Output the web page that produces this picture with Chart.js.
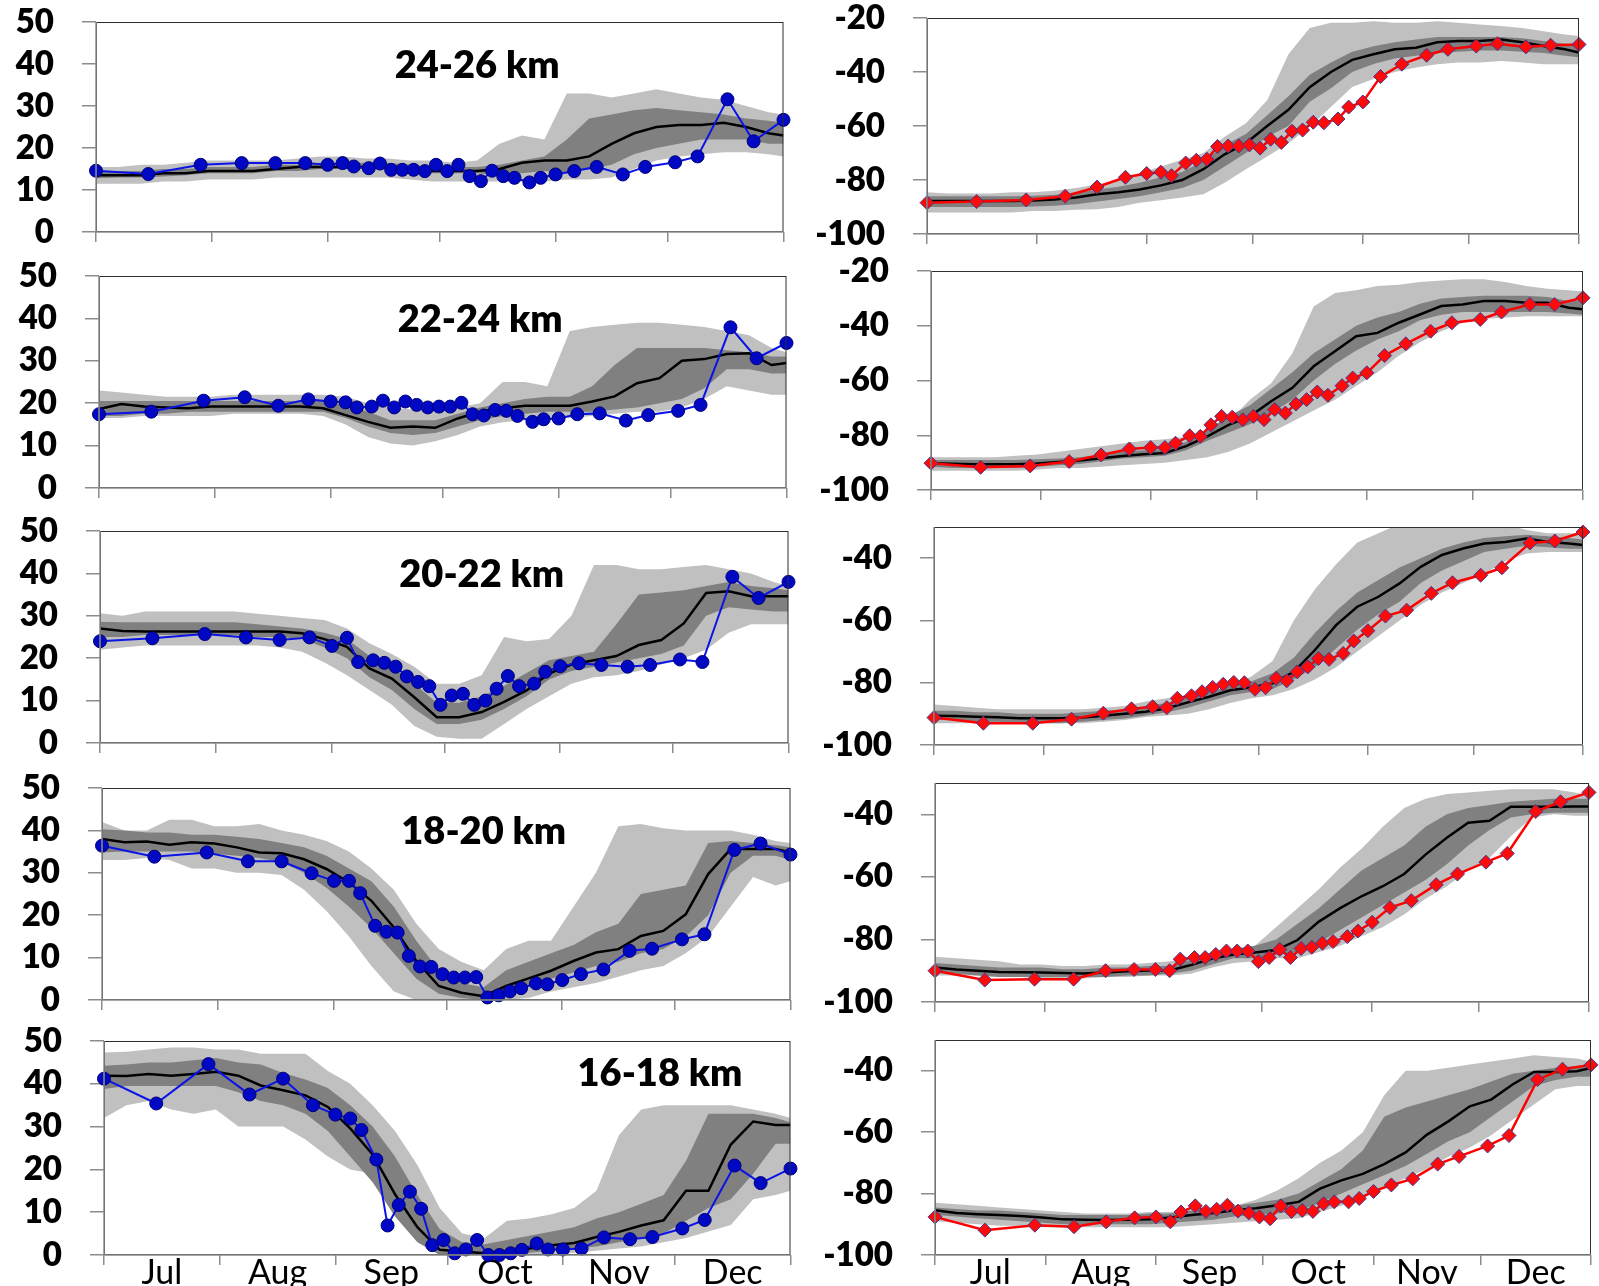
<!DOCTYPE html>
<html>
<head>
<meta charset="utf-8">
<script src="https://cdn.jsdelivr.net/npm/chart.js@4.4.1/dist/chart.umd.min.js"></script>
<style>
  html, body { margin: 0; padding: 0; background: #fff; }
  body { width: 1599px; height: 1286px; position: relative; overflow: hidden; }
  .panel { position: absolute; }
</style>
</head>
<body>
<script>
// x in days since 1 July
const bandDays = [0, 6, 12, 18, 24, 30, 36, 42, 48, 54, 60, 66, 72, 78, 84, 90, 96, 102, 108, 114, 120, 126, 132, 138, 144, 150, 156, 162, 168, 174, 180, 184];
const obsDays = [0, 14, 28, 39, 48, 56, 62, 66, 69, 73, 76, 79, 82, 85, 88, 91, 94, 97, 100, 103, 106, 109, 112, 116, 119, 123, 128, 134, 141, 147, 155, 161, 169, 176, 184];
const monthEdges = [0, 31, 62, 92, 123, 153, 184];
const monthMid = [15.5, 46.5, 77, 107.5, 138, 168.5];
const monthNames = ['Jul', 'Aug', 'Sep', 'Oct', 'Nov', 'Dec'];
const leftTicks = [0, 10, 20, 30, 40, 50];
const rightTicksHigh = [-100, -80, -60, -40, -20];
const rightTicksLow = [-100, -80, -60, -40];

// ---- 24-26 km ----
const o3_2426_lightLo = [11.5,11.5,11.5,12,12,12.5,12.5,12.5,13,13,13,13,13,13,12.5,12,12,12,12,12,12,12.5,12.5,13,15,17,18,18.5,19,19,18.5,18];
const o3_2426_lightHi = [15.5,15.5,16,16,16.5,17,17,17,17,17.5,18,18,17.5,17.5,17,17,16.5,17,21,23,22,33,33,32,33,34,33,32,31.5,30,28.5,28];
const o3_2426_darkLo = [12.8,13,13,13.2,13.5,14,14,14,14.5,14.5,15,15,15,15,14.5,14,14,14,13.5,14,14.5,14,15,16,18.5,20,21,22,22,22,21,21];
const o3_2426_median = [13.5,13.5,13.5,14,14,14.5,14.5,14.5,15,15.5,15.5,15.5,15.5,15.5,15,14.5,14.5,14.5,15,16.5,17,17,18,21,23.5,25,25.5,25.5,26,25,23.5,23];
const o3_2426_darkHi = [14.5,14.5,14.5,15,15,15.5,15.5,15.5,16,16,16.5,16.5,16.5,16.5,16,15.5,15.5,15.5,16,17,18,22,27,28,29,29.5,29,28.5,28,27,26.5,26];
const o3_2426_obs = [14.6,13.8,16.0,16.4,16.4,16.4,16.0,16.4,15.6,15.2,16.3,14.8,14.8,14.8,14.5,16.0,14.5,16.0,13.3,12.1,14.6,13.3,12.9,11.8,12.9,13.7,14.5,15.5,13.7,15.5,16.6,18.0,31.6,21.6,26.7];

const t_2426_lightLo = [-92,-92,-92,-92,-92,-91.5,-91.5,-91,-90.8,-90,-88.4,-87.5,-86.5,-85.3,-81,-76,-71.3,-66.4,-60.3,-53,-45.6,-42.6,-40,-38.3,-37.1,-36.5,-36.5,-35.9,-36.5,-37.1,-37.1,-37.1];
const t_2426_lightHi = [-84.5,-85,-85,-85,-84.5,-84.5,-84,-83,-81.7,-80,-77.4,-75,-72.5,-70,-64,-59,-50.5,-33.4,-23.7,-21.8,-21.8,-21.2,-21.8,-21.8,-21.2,-21.8,-22.4,-23,-23.7,-24.9,-26.1,-26.7];
const t_2426_darkLo = [-90,-90,-90,-90,-90,-89.8,-89.5,-89,-88,-87,-86,-84.5,-83,-80,-75,-70,-64,-60,-51,-46,-40,-37,-35,-34,-33,-32.5,-32,-32,-32.5,-33,-34,-34.5];
const t_2426_median = [-87.8,-87.8,-87.8,-87.8,-87.8,-87.6,-87.2,-86.5,-85.3,-84.5,-83.5,-82,-80,-76,-70.5,-66.4,-60,-54,-45.6,-40,-35.5,-33.4,-31.6,-31,-29,-28.5,-28.5,-28,-29,-30.4,-31.6,-32.8];
const t_2426_darkHi = [-86,-86,-86,-86,-86,-85.8,-85.5,-84.5,-83.5,-82.5,-81,-79,-77,-73,-67,-63,-56,-49,-41,-36.5,-32.5,-30.5,-29,-28,-27,-27,-27,-27,-27.5,-28.5,-29.5,-30];
const t_2426_obs = [-88.4,-88,-87.4,-86,-82.6,-79,-77.6,-77.1,-78.4,-73.7,-72.7,-72.3,-67.6,-67.4,-67.4,-67,-68.2,-64.9,-66.1,-61.9,-61.5,-58.6,-58.8,-57.4,-53,-51.1,-41.7,-37.1,-33.8,-31.6,-30.4,-29.5,-30.7,-30.1,-29.8];

// ---- 22-24 km ----
const o3_2224_lightLo = [16.5,16.5,17,17,17,17,17.5,17.5,17.5,17.5,17,15,12,10.5,10,11,12.5,14.5,15.5,16,16.5,16.5,17,17.5,18,18,19,21,24,23,22,22];
const o3_2224_lightHi = [23,22.5,22,21.5,21.5,21.5,22,22,22,22,22,21.5,20,19,18.5,18,19,20,25,25,24,37,38,38.5,39,39,38.5,38,37,36,33,32];
const o3_2224_darkLo = [17,17,17.5,17.5,18,18,18,18,18,18,18,16.5,14.5,13,12.5,13,14.5,16,17,17.5,18,18,18,18.5,19,20,21,23.5,28,28,27,27];
const o3_2224_median = [18.6,19.8,19.2,19,18.8,19.2,19.2,19.2,19.2,19.2,18.8,17.2,15.6,14.2,14.5,14.2,16.4,18,18.8,19.4,19.4,19.4,20.4,21.6,24.7,25.9,30,30.4,31.6,31.8,29,29.5];
const o3_2224_darkHi = [20.5,20.5,20.5,20.5,20.5,20.5,20.5,20.5,20.5,20.5,20.5,19.5,18,16,16,16,17.5,19,20,21,21.5,21.5,24,29,33,33,33,33,32.5,32,31,31];
const o3_2224_obs = [17.4,18,20.6,21.4,19.4,20.9,20.4,20.2,19,19.2,20.6,19,20.4,19.6,19,19.2,19.2,20.1,17.4,17.1,18.4,18.2,17,15.6,16.2,16.4,17.4,17.6,15.9,17.2,18.2,19.6,37.9,30.6,34.2];

const t_2224_lightLo = [-93,-93,-93,-93,-93,-92.5,-92,-92,-91.5,-91,-90.5,-90,-89,-88,-86,-83,-79,-75,-71,-67,-62,-57,-51,-46,-42,-39,-37.5,-37,-36.5,-36.5,-36.5,-36.5];
const t_2224_lightHi = [-88,-88,-88,-88,-87.5,-87,-86,-85,-84,-83,-82,-81.5,-80.5,-79.5,-75,-67,-61,-50,-33,-28,-27,-25.5,-25,-24,-23.5,-23,-23,-24,-25.5,-26.5,-27,-27.5];
const t_2224_darkLo = [-91.5,-92,-92,-92,-92,-91.5,-91,-90.5,-89.5,-88.5,-88,-87.5,-85.5,-82,-79,-76,-72,-67,-60,-54,-49,-45,-42,-38,-36,-35,-35,-35,-35,-35,-35.5,-36];
const t_2224_median = [-90.2,-90.4,-90.6,-90.6,-90.6,-90.3,-89.8,-89.2,-88.4,-87.6,-86.9,-86.5,-84,-80.4,-76.2,-73.1,-67.6,-62.7,-54.8,-49.3,-43.8,-42.6,-38.9,-35.9,-32.8,-32.2,-31,-31,-31.6,-31.6,-33.4,-34];
const t_2224_darkHi = [-89,-89,-89,-89,-89,-88.8,-88.5,-88,-87,-86,-85.5,-85,-82.5,-78,-73,-69,-63,-57,-50,-45,-40,-37,-35,-32,-30,-29.5,-29,-29,-29,-29.5,-31,-31];
const t_2224_obs = [-90.2,-91.7,-91.2,-89.6,-87.2,-85,-84.5,-84.5,-82.9,-80.2,-80.4,-76.2,-73.1,-73.4,-74.3,-73.1,-74.3,-70.6,-71.9,-68.6,-67,-64.2,-65.4,-61.9,-59.1,-57.2,-50.9,-46.6,-42,-38.9,-37.7,-35,-32.2,-32.2,-29.8];

// ---- 20-22 km ----
const o3_2022_lightLo = [22,22.5,23,23,23,23,23,23,22.5,21.5,19,16,12.5,9,4,1.5,1,1,4.5,8,11,14,15.5,16,17,18.5,20,22,26,28,28,28];
const o3_2022_lightHi = [30.6,30,31,31,31,31,31,30.5,30,29.5,29,27,23.5,21,18,14,14,16,25,24,24.5,30,42,42,41,41,41.5,42,41,40,38,37];
const o3_2022_darkLo = [25,25,25.5,25.5,25.5,25.5,25.5,25,25,24.5,22.5,20,15.5,12.5,8,4.5,4.5,5.5,8,11,15,17,18,19,20,21,23,30,32,31.5,31,31];
const o3_2022_median = [27,26.4,26.3,26.3,26.3,26.3,26.3,26.3,26.3,25.9,24.5,22.7,17.6,15.2,10.8,6.1,6.1,7.3,9.7,12.4,16.4,18.5,19.5,20.5,23.1,24.3,28.2,35.4,35.8,34.6,34.6,34.6];
const o3_2022_darkHi = [28.6,28.5,28.5,28.5,28.5,28.5,28.5,28,27.5,27,26,24.5,20.5,18,14,9.5,9.5,11,13.5,16.5,19.5,20.5,21.5,28,35,35.5,36,37,38,37,36.5,36];
const o3_2022_obs = [24,24.7,25.7,24.9,24.3,24.9,22.9,24.8,19.1,19.5,18.9,18,15.7,14.4,13.4,9,11.2,11.6,9,10,12.8,15.8,13.4,14,16.8,18.1,18.8,18.4,18,18.4,19.7,19.1,39.2,34.2,38];

const t_2022_lightLo = [-93,-93,-93,-93,-93,-93,-93,-93,-92.5,-92,-91,-90.5,-90,-88.5,-86.5,-85,-84,-82,-79,-75,-70,-65,-60,-55,-51,-48,-45,-41,-38.5,-38,-38,-38];
const t_2022_lightHi = [-87,-87.5,-88,-88.5,-88.5,-88.5,-88.5,-88.5,-88,-87.5,-86,-85,-84,-83,-81,-78,-73,-60,-50,-42,-35,-32,-29,-29,-29,-29,-29,-29,-31,-32,-32,-32];
const t_2022_darkLo = [-92,-92,-92.5,-92.5,-93,-93,-93,-92.5,-92,-91.5,-90.5,-89.5,-88,-86,-84,-83,-82,-79,-75,-69,-63,-58,-54,-48,-44,-41,-38,-37,-36,-36.5,-37,-37];
const t_2022_median = [-90.6,-90.7,-90.9,-91.1,-91.4,-91.4,-91.4,-91.2,-90.6,-90,-89.3,-88.2,-86.3,-84.5,-82.4,-81.5,-80.2,-76.5,-69.5,-61.5,-55.6,-52.4,-48.1,-42.8,-39,-36.9,-35.3,-34.8,-33.7,-34.8,-35.3,-35.8];
const t_2022_darkHi = [-89,-89,-89.5,-89.5,-90,-90,-90,-89.5,-89,-88.5,-87.5,-86.5,-84.5,-83,-81,-79.5,-77,-72,-64,-57,-51,-47,-43,-40,-37,-35,-33.5,-33,-32.5,-33,-33.5,-34];
const t_2022_obs = [-91.2,-93,-93,-91.7,-89.8,-88.4,-87.7,-88,-85,-84.2,-82.9,-81.5,-80.5,-79.9,-80,-82.1,-81.6,-78.6,-79.4,-76.5,-74.9,-72.2,-72.5,-70.6,-66.6,-63.3,-58.6,-56.7,-51.3,-47.9,-45.5,-43.1,-35.1,-34.5,-31.6];

// ---- 18-20 km ----
const o3_1820_lightLo = [33,33,33.5,33,31,31,30,30,29.5,26,21,15,8,2,0,0,0,0,0,0.5,2,3,4,5.5,7,8,11,15,22,29,27,28];
const o3_1820_lightHi = [42,40,40,42.5,42.5,41,41,41.5,40,39,37.5,35,31,26,18,12,9,7,12,14,14,22,30,41,41.5,40.5,40,40,40,39,37.5,37];
const o3_1820_darkLo = [34.8,35,35,35,35,34.5,34,33.5,32.5,30,26.5,22,17,11,5,1.5,0.5,0,1,3,5,6.5,8,9,11,12,15,20,30,34,34,33];
const o3_1820_median = [38,37.2,37.4,36.6,37.2,36.9,36,34.8,34.6,33.2,30.9,27.7,23.4,17.1,9.2,3.3,1.7,0.9,3.3,5.1,6.9,9.2,11.2,12,15.1,16.3,20.2,29.7,35.6,35.6,35.6,34.8];
const o3_1820_darkHi = [40.3,40,39.5,39.5,39,39,38.5,38,37,36,34,31,28,22,14,7,4,3,7,9,11,13,16,18,25,26,27,37,37.5,37,36.5,36];
const o3_1820_obs = [36.4,33.8,34.8,32.7,32.7,29.9,28.1,28.1,25.2,17.5,16.1,15.9,10.4,7.9,7.8,6.1,5.3,5.3,5.4,0.6,1.1,2,2.8,3.9,3.7,4.7,6.1,7.2,11.6,12.1,14.3,15.5,35.4,36.9,34.3];

const t_1820_lightLo = [-91.5,-91.5,-91.5,-92,-92,-92.5,-92.5,-92.5,-92,-92,-91.5,-91.5,-91,-89,-87.5,-87,-86,-86,-84,-82,-79,-76,-72,-67,-63,-58,-54,-47,-41,-40,-40.5,-40.5];
const t_1820_lightHi = [-85.5,-86,-86.5,-87,-88,-88,-88.5,-88.5,-88,-88,-87.5,-87,-86,-84.5,-83.5,-82,-76,-70,-64,-57,-51,-44,-38,-35,-33.5,-33,-32.5,-32,-32,-32,-33,-34];
const t_1820_darkLo = [-90.5,-91,-91.5,-92,-92,-92,-92,-92,-92,-91.5,-91.5,-91,-90,-88,-86,-86,-85,-84,-81,-77,-73,-69,-65,-61,-56,-50,-45,-41,-40,-39.5,-39.5,-39.5];
const t_1820_median = [-89,-89.6,-90,-90.4,-90.5,-90.6,-90.7,-90.9,-90.6,-90.2,-89.9,-89.9,-88.2,-86.1,-84.8,-84.2,-83.4,-80.2,-74.3,-70,-66.2,-63,-59.1,-52.9,-47.5,-42.7,-42.1,-37.6,-37.6,-37.6,-37.5,-37.5];
const t_1820_darkHi = [-87.5,-88,-88.5,-89,-89,-89,-89.5,-89.5,-89,-89,-88.5,-88.5,-86.5,-84,-83,-82,-80,-75,-70,-64,-58,-54,-50,-44,-40,-38,-37,-36,-35.5,-35,-35,-35];
const t_1820_obs = [-90,-93,-92.7,-92.7,-90,-89.6,-89.6,-90,-86.3,-85.8,-85.8,-84.8,-83.7,-83.7,-83.7,-87.1,-85.8,-83.2,-85.8,-82.9,-82.5,-81.2,-80.7,-79.1,-77.3,-74.5,-69.8,-67.6,-62.5,-59.1,-55.3,-52.5,-39.1,-36,-33];

// ---- 16-18 km ----
const o3_1618_lightLo = [32,35,36,34,33,34,30,30,30,27,23,20,19,13,4,0,0,0,0,0,0,0.5,1,1.5,2,3,4,5.5,7,13,14,15];
const o3_1618_lightHi = [47.3,47.5,48,48.5,48.5,48,48,47,47,47,43,40,35,29,21,11,5,4,8,8.5,9.5,11,15,28,34,35,35,35,35,34,33,32];
const o3_1618_darkLo = [38.8,39.5,39.5,39.5,39.5,39.5,38,36,35,33,29,23,17,9,3,0,0,0,0,0.5,1,1.5,2,3,4,5,8,11,13,19,26,26];
const o3_1618_median = [41.9,41.8,42.3,41.9,42.3,42.8,41.9,39.6,38.5,37.3,34.6,29.6,23.5,14.2,6.5,1.2,0.8,0.4,0.8,1.5,2.3,2.8,4.2,5.4,6.9,8.1,15,15,25.8,31.2,30.4,30.4];
const o3_1618_darkHi = [44.2,44.5,45,45,45.5,46,45,44.5,42.5,41,39,35,30,23,14,6,3,2.5,3.5,4.5,5.5,6.5,8.5,10,12,14,22,33,33,33,32,31];
const o3_1618_obs = [41.2,35.4,44.6,37.5,41.2,35,32.8,31.9,29.2,22.3,6.9,11.7,14.8,10.8,2.3,3.5,0.4,1.3,3.5,0,0,0.4,1.2,2.7,1.3,1.3,1.5,4.1,3.7,4.2,6.2,8.2,20.9,16.8,20.2];

const t_1618_lightLo = [-89,-89.5,-90,-90.5,-90.5,-91,-91,-91,-91,-91,-91,-91,-90.5,-90,-89.5,-89,-88.5,-88,-86,-84,-81,-78,-75,-72,-68,-65,-61,-56,-51,-46,-45,-45];
const t_1618_lightHi = [-83,-83.5,-84,-84.5,-85,-85.5,-86,-86.5,-86.5,-86.5,-86,-86,-85,-84.5,-84,-82,-79,-75,-70,-66,-60,-48,-40,-40,-39,-38,-37,-36,-35,-35.5,-36,-37];
const t_1618_darkLo = [-87,-87.5,-88,-88.5,-89,-89.5,-90,-90,-90,-90,-90,-89.5,-89,-88.5,-87.5,-87,-86.5,-85.5,-83,-80,-77,-74,-71,-67,-63,-60,-55,-50,-45,-43,-42,-42];
const t_1618_median = [-85.4,-86.3,-86.7,-87,-87.3,-87.8,-88.4,-88.5,-88.6,-88.5,-88.4,-87.8,-87,-86.3,-85.4,-84.8,-83.8,-82.7,-78.4,-75.7,-73.6,-70.4,-66.6,-60.8,-56.5,-51.6,-49.4,-44.5,-40.4,-40.4,-40.2,-39.1];
const t_1618_darkHi = [-84.5,-85,-85.5,-85.5,-86,-86.5,-87,-87,-87,-87,-86.5,-86.5,-85.5,-85,-84,-83,-82,-80,-76,-72,-66,-55,-52,-50,-48,-46,-43.5,-41,-40,-39,-38.5,-38];
const t_1618_obs = [-87.6,-91.9,-90.3,-90.8,-89.2,-87.9,-87.6,-89.2,-86,-84,-85.8,-85.1,-83.8,-85.7,-86.3,-87.6,-88.2,-84,-85.8,-85.5,-85.8,-83.3,-82.7,-82.7,-81.6,-79.3,-77.2,-75.2,-70.4,-67.9,-64.5,-61.1,-42.9,-39.5,-38.1];

const LIGHT = '#c0c0c0';
const DARK = '#808080';
const blueObs = { line: '#0a14e6', fill: '#0008c4', edge: '#00007a', style: 'circle', r: 6.5, w: 2 };
const redObs = { line: '#ff0000', fill: '#ff0a0a', edge: '#463a8c', style: 'rectRot', r: 7, w: 2.5 };

const panels = [
  { col: 0, box: [96, 22, 788, 232], yMin: 0, yMax: 50, yTicks: leftTicks, title: { text: '24-26 km', day: 102, val: 39.6 },
    lo: o3_2426_lightLo, hi: o3_2426_lightHi, qlo: o3_2426_darkLo, med: o3_2426_median, qhi: o3_2426_darkHi, obs: o3_2426_obs, mk: blueObs },
  { col: 1, box: [927, 18, 1584, 234], yMin: -100, yMax: -20, yTicks: rightTicksHigh,
    lo: t_2426_lightLo, hi: t_2426_lightHi, qlo: t_2426_darkLo, med: t_2426_median, qhi: t_2426_darkHi, obs: t_2426_obs, mk: redObs },
  { col: 0, box: [99, 276, 791, 488], yMin: 0, yMax: 50, yTicks: leftTicks, title: { text: '22-24 km', day: 102, val: 39.6 },
    lo: o3_2224_lightLo, hi: o3_2224_lightHi, qlo: o3_2224_darkLo, med: o3_2224_median, qhi: o3_2224_darkHi, obs: o3_2224_obs, mk: blueObs },
  { col: 1, box: [931, 271, 1588, 490], yMin: -100, yMax: -20, yTicks: rightTicksHigh,
    lo: t_2224_lightLo, hi: t_2224_lightHi, qlo: t_2224_darkLo, med: t_2224_median, qhi: t_2224_darkHi, obs: t_2224_obs, mk: redObs },
  { col: 0, box: [100, 531, 793, 743], yMin: 0, yMax: 50, yTicks: leftTicks, title: { text: '20-22 km', day: 102, val: 39.6 },
    lo: o3_2022_lightLo, hi: o3_2022_lightHi, qlo: o3_2022_darkLo, med: o3_2022_median, qhi: o3_2022_darkHi, obs: o3_2022_obs, mk: blueObs },
  { col: 1, box: [934, 527, 1588, 745], yMin: -100, yMax: -30, yTicks: rightTicksLow,
    lo: t_2022_lightLo, hi: t_2022_lightHi, qlo: t_2022_darkLo, med: t_2022_median, qhi: t_2022_darkHi, obs: t_2022_obs, mk: redObs },
  { col: 0, box: [102, 788, 795, 1000], yMin: 0, yMax: 50, yTicks: leftTicks, title: { text: '18-20 km', day: 102, val: 39.6 },
    lo: o3_1820_lightLo, hi: o3_1820_lightHi, qlo: o3_1820_darkLo, med: o3_1820_median, qhi: o3_1820_darkHi, obs: o3_1820_obs, mk: blueObs },
  { col: 1, box: [935, 783, 1594, 1002], yMin: -100, yMax: -30, yTicks: rightTicksLow,
    lo: t_1820_lightLo, hi: t_1820_lightHi, qlo: t_1820_darkLo, med: t_1820_median, qhi: t_1820_darkHi, obs: t_1820_obs, mk: redObs },
  { col: 0, box: [104, 1041, 795, 1255], yMin: 0, yMax: 50, yTicks: leftTicks, title: { text: '16-18 km', day: 149, val: 42.3 }, bottom: true,
    lo: o3_1618_lightLo, hi: o3_1618_lightHi, qlo: o3_1618_darkLo, med: o3_1618_median, qhi: o3_1618_darkHi, obs: o3_1618_obs, mk: blueObs },
  { col: 1, box: [935, 1040, 1596, 1255], yMin: -100, yMax: -30, yTicks: rightTicksLow, bottom: true,
    lo: t_1618_lightLo, hi: t_1618_lightHi, qlo: t_1618_darkLo, med: t_1618_median, qhi: t_1618_darkHi, obs: t_1618_obs, mk: redObs }
];

const xTickValues = monthEdges.concat(monthMid).sort((a, b) => a - b);

function pts(xs, ys) {
  return xs.map((x, i) => ({ x: x, y: ys[i] }));
}

function band(ys, fillTo, color, order) {
  return {
    data: pts(bandDays, ys),
    borderColor: 'transparent',
    borderWidth: 0,
    pointRadius: 0,
    backgroundColor: color || 'transparent',
    fill: fillTo,
    order: order
  };
}

const framePlugin = {
  id: 'frame',
  afterDatasetsDraw(chart) {
    const a = chart.chartArea, ctx = chart.ctx;
    ctx.save();
    ctx.strokeStyle = '#2e2e2e';
    ctx.lineWidth = 1;
    ctx.strokeRect(a.left + 0.5, a.top + 0.5, a.right - a.left - 1, a.bottom - a.top - 1);
    ctx.strokeStyle = '#8c8c8c';
    ctx.lineWidth = 1.5;
    ctx.beginPath();
    ctx.moveTo(a.left, a.top);
    ctx.lineTo(a.left, a.bottom);
    ctx.lineTo(a.right, a.bottom);
    ctx.stroke();
    const t = chart.options.plugins.frame.title;
    if (t) {
      ctx.fillStyle = '#000';
      ctx.font = '800 38px Lato';
      ctx.textAlign = 'center';
      ctx.textBaseline = 'middle';
      ctx.fillText(t.text, chart.scales.x.getPixelForValue(t.day), chart.scales.y.getPixelForValue(t.val));
    }
    ctx.restore();
  }
};

function plotPanel(p) {
  const padTop = 22;
  const padRight = 3;
  const xH = p.bottom ? 45 : 12;
  const cLeft = p.col === 0 ? 0 : 800;
  const cTop = p.box[1] - padTop;
  const w = p.box[2] - cLeft + padRight;
  const h = p.box[3] - cTop + xH;

  const div = document.createElement('div');
  div.className = 'panel';
  div.style.left = cLeft + 'px';
  div.style.top = cTop + 'px';
  div.style.width = w + 'px';
  div.style.height = h + 'px';
  const canvas = document.createElement('canvas');
  canvas.width = w;
  canvas.height = h;
  div.appendChild(canvas);
  document.body.appendChild(div);

  return new Chart(canvas, {
    type: 'line',
    data: {
      datasets: [
        band(p.lo, false, null, 3),
        band(p.hi, 0, LIGHT, 3),
        band(p.qlo, false, null, 2),
        band(p.qhi, 2, DARK, 2),
        {
          data: pts(bandDays, p.med),
          borderColor: '#000',
          borderWidth: 2.5,
          pointRadius: 0,
          fill: false,
          order: 1
        },
        {
          data: pts(obsDays, p.obs),
          borderColor: p.mk.line,
          borderWidth: p.mk.w,
          pointStyle: p.mk.style,
          pointRadius: p.mk.r,
          pointBackgroundColor: p.mk.fill,
          pointBorderColor: p.mk.edge,
          pointBorderWidth: 1,
          fill: false,
          clip: false,
          order: 0
        }
      ]
    },
    options: {
      responsive: false,
      animation: false,
      events: [],
      layout: { padding: { top: padTop, right: padRight, left: 0, bottom: 0 } },
      elements: { line: { tension: 0 } },
      plugins: {
        legend: { display: false },
        tooltip: { enabled: false },
        frame: { title: p.title || null }
      },
      scales: {
        x: {
          type: 'linear',
          min: 0,
          max: 184,
          afterBuildTicks: (s) => { s.ticks = xTickValues.map(v => ({ value: v })); },
          afterFit: (s) => { s.height = xH; s.paddingLeft = 0; s.paddingRight = 0; },
          border: { display: false },
          grid: {
            drawOnChartArea: false,
            drawTicks: true,
            tickLength: 10,
            lineWidth: 1.5,
            tickColor: (ctx) => (ctx.tick && monthEdges.includes(ctx.tick.value)) ? '#8c8c8c' : 'rgba(0,0,0,0)'
          },
          ticks: {
            autoSkip: false,
            maxRotation: 0,
            padding: -9,
            color: '#000',
            font: { family: 'Lato', size: 34, lineHeight: 1 },
            callback: (v) => {
              const k = monthMid.indexOf(v);
              return (p.bottom && k >= 0) ? monthNames[k] : '';
            }
          }
        },
        y: {
          min: p.yMin,
          max: p.yMax,
          afterBuildTicks: (s) => { s.ticks = p.yTicks.map(v => ({ value: v })); },
          afterFit: (s) => { s.width = p.box[0] - cLeft; s.paddingTop = 0; s.paddingBottom = 0; },
          border: { display: false },
          grid: {
            drawOnChartArea: false,
            drawTicks: true,
            tickLength: 14,
            lineWidth: 1.5,
            tickColor: '#8c8c8c'
          },
          ticks: {
            padding: 28,
            color: '#000',
            font: { family: 'Lato', size: 33, weight: '800', lineHeight: 1 }
          }
        }
      }
    },
    plugins: [framePlugin]
  });
}

panels.forEach(plotPanel);
</script>
</body>
</html>
